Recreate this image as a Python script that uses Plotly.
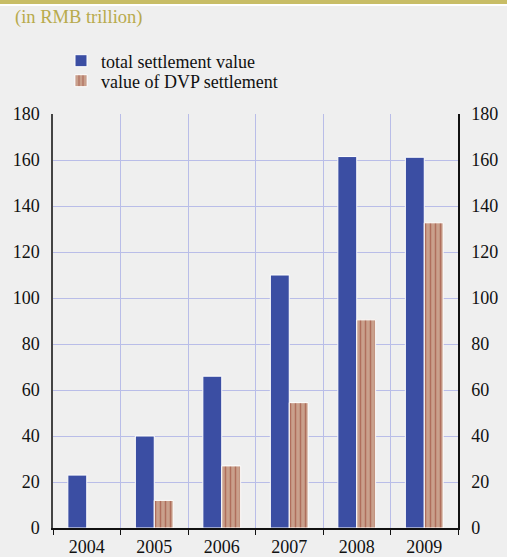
import plotly.graph_objects as go

years = ["2004", "2005", "2006", "2007", "2008", "2009"]
total_settlement = [23, 40, 66, 110, 161.5, 161.2]
dvp_settlement = [None, 12, 27, 54.5, 90.5, 132.7]
y_ticks = [0, 20, 40, 60, 80, 100, 120, 140, 160, 180]

W, H = 507, 557
ML, MR, MT, MB = 53, 49, 114, 29
PH = H - MT - MB
PW = W - ML - MR

font = "Liberation Serif, Times New Roman, serif"
FS = 18

fig = go.Figure()
fig.add_trace(go.Bar(
    x=years, y=total_settlement, name="total settlement value", legend="legend",
    marker=dict(color="#3b4ea3", line=dict(color="white", width=1)),
))
fig.add_trace(go.Bar(
    x=years, y=dvp_settlement, name="value of DVP settlement", legend="legend2",
    marker=dict(color="#c9a08c", line=dict(color="white", width=1),
                pattern=dict(shape="|", fgcolor="#963b2c", bgcolor="#c9a08c",
                             size=5, solidity=0.3)),
))
fig.add_trace(go.Scatter(
    x=years, y=total_settlement, yaxis="y2", mode="markers",
    marker=dict(opacity=0), showlegend=False, hoverinfo="skip",
))

axis_common = dict(range=[0, 180], tickvals=y_ticks, ticks="",
                   ticklabelstandoff=8, automargin=False,
                   tickfont=dict(family=font, size=FS, color="#111"),
                   showline=True, linewidth=1.5)

legend_common = dict(xanchor="left", yanchor="middle",
                     bgcolor="rgba(0,0,0,0)",
                     font=dict(family=font, size=FS, color="#111"),
                     itemwidth=30)

fig.update_layout(
    width=W, height=H,
    margin=dict(l=ML, r=MR, t=MT, b=MB),
    paper_bgcolor="#efefef", plot_bgcolor="#efefef",
    barmode="group", bargap=0.44, bargroupgap=0.0,
    font=dict(family=font, size=FS, color="#111"),
    xaxis=dict(type="category", tickson="boundaries", ticks="outside",
               ticklen=5, tickcolor="#111", showgrid=True, automargin=False,
               gridcolor="#b9bde8", gridwidth=1, ticklabelstandoff=2,
               showline=True, linecolor="#111", linewidth=1.5,
               tickfont=dict(family=font, size=FS, color="#111")),
    yaxis=dict(**axis_common, showgrid=True, gridcolor="#b9bde8",
               gridwidth=1, linecolor="#444", zeroline=False),
    yaxis2=dict(**axis_common, overlaying="y", side="right", showgrid=False,
                linecolor="#111", zeroline=False),
    legend=dict(**legend_common, x=8 / PW, y=1 + (MT - 61) / PH),
    legend2=dict(**legend_common, x=8 / PW, y=1 + (MT - 81) / PH),
    showlegend=True,
    shapes=[
        dict(type="rect", xref="paper", yref="paper",
             x0=-ML / PW, x1=(W - ML) / PW,
             y0=1 + (MT - 4) / PH, y1=1 + MT / PH,
             fillcolor="#c8bd66", line=dict(width=0), layer="above"),
        dict(type="rect", xref="paper", yref="paper",
             x0=-ML / PW, x1=(W - ML) / PW,
             y0=1 + (MT - 6) / PH, y1=1 + (MT - 4) / PH,
             fillcolor="white", line=dict(width=0), layer="above"),
    ],
    annotations=[
        dict(text="(in RMB trillion)", xref="paper", yref="paper",
             x=-40 / PW, y=1 + (MT - 17) / PH, xanchor="left", yanchor="middle",
             showarrow=False, font=dict(family=font, size=18.5, color="#b8aa4c")),
    ],
)

fig.write_html("out.html", config={"displayModeBar": False},
               post_script="document.body.style.margin='0';document.body.style.overflow='hidden';")
